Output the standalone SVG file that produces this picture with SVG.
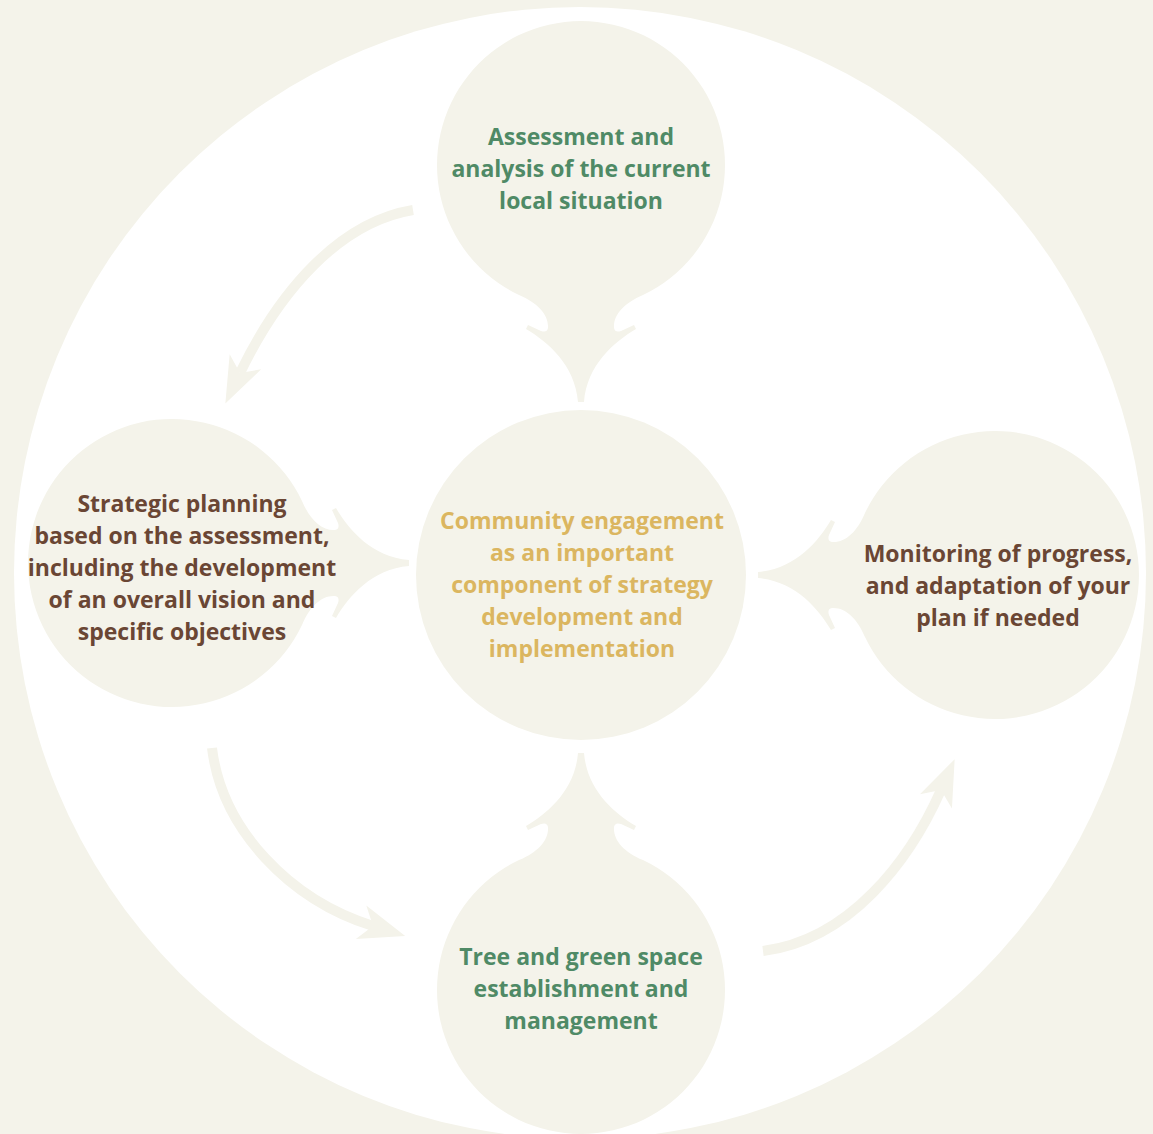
<svg xmlns="http://www.w3.org/2000/svg" xmlns:xlink="http://www.w3.org/1999/xlink" width="1153" height="1134" viewBox="0 0 1153 1134">
  <style>
    .cream { fill: #f4f3ea; }
    .conn { fill: none; stroke: #f4f3ea; stroke-width: 10; stroke-linecap: butt; }
    text { font-family: "Open Sans", "Liberation Sans", sans-serif; font-weight: 700; font-size: 23px; text-anchor: middle; }
    .green { fill: #4f8a66; }
    .brown { fill: #6a4634; }
    .gold { fill: #dbb660; }
  </style>
  <defs>
    <path id="drop" class="cream" d="M 62,130 A 144 144 0 1 0 -62,130 C -43,138 -32,150 -33,163 Q -34,168 -40,166 L -53,160 L -55,164 C -33,177 -6,200 -3,237 L 3,237 C 6,200 33,177 55,164 L 53,160 L 40,166 Q 34,168 33,163 C 32,150 43,138 62,130 Z"/>
    <marker id="head" markerUnits="userSpaceOnUse" markerWidth="60" markerHeight="40" viewBox="-12 -16 44 32" refX="0" refY="0" orient="auto">
      <path class="cream" d="M 27,0 L -10,-14 L 0,0 L -10,14 Z"/>
    </marker>
  </defs>
  <rect x="0" y="0" width="1153" height="1134" class="cream"/>
  <circle cx="580" cy="573" r="566" fill="#ffffff"/>

  <g id="connectors">
    <path class="conn" d="M 413,210 C 340,222 280,290 240,373" marker-end="url(#head)"/>
    <path class="conn" d="M 212,748 C 222,830 290,900 373,926" marker-end="url(#head)"/>
    <path class="conn" d="M 763,951 C 850,940 910,860 941,790" marker-end="url(#head)"/>
  </g>

  <g id="node-center">
    <circle class="cream" cx="581" cy="575" r="165"/>
    <text class="gold" x="582" y="529">Community engagement</text>
    <text class="gold" x="582" y="561">as an important</text>
    <text class="gold" x="582" y="593">component of strategy</text>
    <text class="gold" x="582" y="625">development and</text>
    <text class="gold" x="582" y="657">implementation</text>
  </g>

  <g id="node-assessment">
    <use xlink:href="#drop" href="#drop" transform="translate(581,165)"/>
    <text class="green" x="581" y="145">Assessment and</text>
    <text class="green" x="581" y="177">analysis of the current</text>
    <text class="green" x="581" y="209">local situation</text>
  </g>

  <g id="node-planning">
    <use xlink:href="#drop" href="#drop" transform="translate(172,563) rotate(-90)"/>
    <text class="brown" x="182" y="512">Strategic planning</text>
    <text class="brown" x="182" y="544">based on the assessment,</text>
    <text class="brown" x="182" y="576">including the development</text>
    <text class="brown" x="182" y="608">of an overall vision and</text>
    <text class="brown" x="182" y="640">specific objectives</text>
  </g>

  <g id="node-monitoring">
    <use xlink:href="#drop" href="#drop" transform="translate(995,575) rotate(90)"/>
    <text class="brown" x="998" y="562">Monitoring of progress,</text>
    <text class="brown" x="998" y="594">and adaptation of your</text>
    <text class="brown" x="998" y="626">plan if needed</text>
  </g>

  <g id="node-establishment">
    <use xlink:href="#drop" href="#drop" transform="translate(581,990) rotate(180)"/>
    <text class="green" x="581" y="965">Tree and green space</text>
    <text class="green" x="581" y="997">establishment and</text>
    <text class="green" x="581" y="1029">management</text>
  </g>
</svg>
